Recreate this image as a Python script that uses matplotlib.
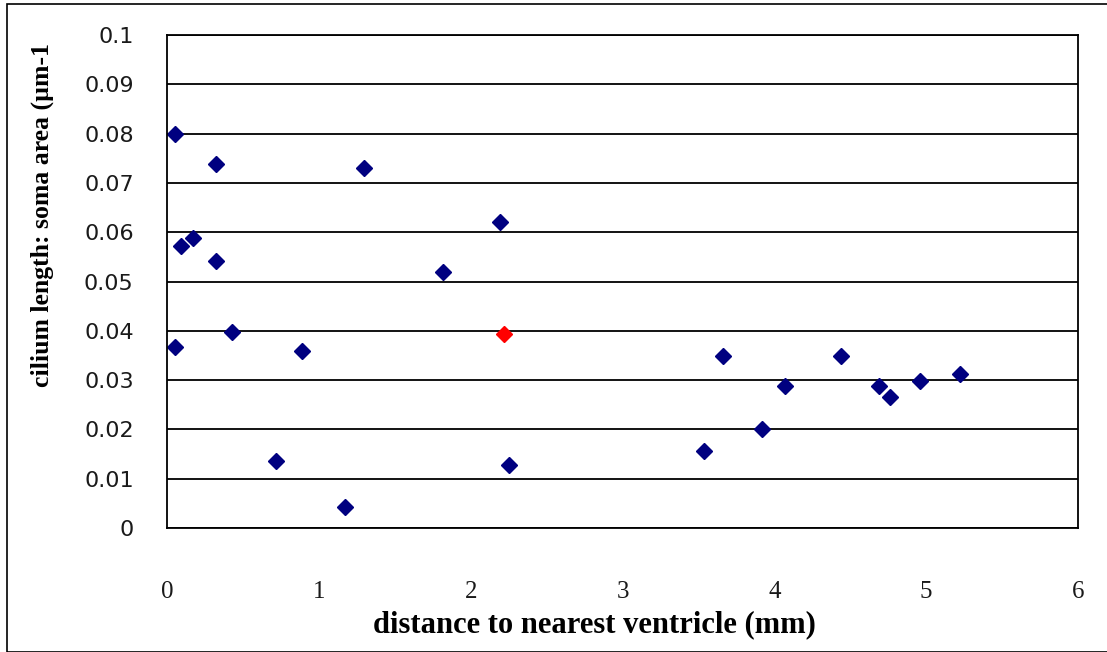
import matplotlib
matplotlib.use('Agg')
from matplotlib import pyplot as plt
from matplotlib.patches import Rectangle

# distance to nearest ventricle (mm) and cilium length : soma area
dist = [0.05, 0.32, 1.30, 0.09, 0.17, 0.32, 1.82, 0.43, 0.05, 0.89,
        0.72, 1.17, 2.19, 2.25, 3.66, 4.44, 4.07, 4.69, 4.76, 4.96,
        5.22, 3.92, 3.54]
ratio = [0.080, 0.0738, 0.073, 0.0572, 0.0588, 0.0542, 0.0519, 0.0398, 0.0368, 0.036,
         0.0136, 0.0042, 0.062, 0.0128, 0.0348, 0.0348, 0.0289, 0.0289, 0.0266, 0.0298,
         0.0312, 0.0201, 0.0157]
# the one highlighted point
red_dist = [2.22]
red_ratio = [0.0394]

xticks = [0, 1, 2, 3, 4, 5, 6]
yticks = [0, 0.01, 0.02, 0.03, 0.04, 0.05, 0.06, 0.07, 0.08, 0.09, 0.1]
ylabels = ['0', '0.01', '0.02', '0.03', '0.04', '0.05', '0.06', '0.07', '0.08', '0.09', '0.1']

fig = plt.figure(figsize=(11.07, 6.52), dpi=100)
fig.patches.append(Rectangle((7 / 1107, 0.0), 1.2, 1 - 4 / 652, transform=fig.transFigure,
                             fill=False, edgecolor='black', linewidth=1.2))

ax = fig.add_axes([167 / 1107, 1 - 528 / 652, (1078 - 167) / 1107, (528 - 35) / 652])
ax.set_xlim(0, 6)
ax.set_ylim(0, 0.1)
ax.set_yticks(yticks)
ax.set_yticklabels(ylabels)
ax.set_xticks(xticks)
ax.yaxis.grid(True, color='black', linewidth=1.3)
ax.set_axisbelow(True)
for s in ax.spines.values():
    s.set_linewidth(1.3)
    s.set_color('black')

ax.tick_params(axis='y', length=0, pad=24, labelsize=16, labelcolor='#1a1a1a')
ax.tick_params(axis='x', length=0, pad=38, labelsize=18, labelcolor='#1a1a1a')
for lab in ax.get_yticklabels():
    lab.set_fontfamily('DejaVu Sans')
for lab in ax.get_xticklabels():
    lab.set_fontfamily('Liberation Serif')

ax.plot(dist, ratio, linestyle='none', marker='D', markersize=8, color='#000080')
ax.plot(red_dist, red_ratio, linestyle='none', marker='D', markersize=8, color='#ff0000')

fig.text(594 / 1107, 1 - 625 / 652, 'distance to nearest ventricle (mm)', ha='center', va='center',
         family='Liberation Serif', fontweight='bold', fontsize=22)
fig.text(42 / 1107, 1 - 215 / 652, 'cilium length: soma area (µm-1', ha='center', va='center',
         rotation=90, family='Liberation Serif', fontweight='bold', fontsize=18.5)

fig.savefig('out.png', dpi=100)
